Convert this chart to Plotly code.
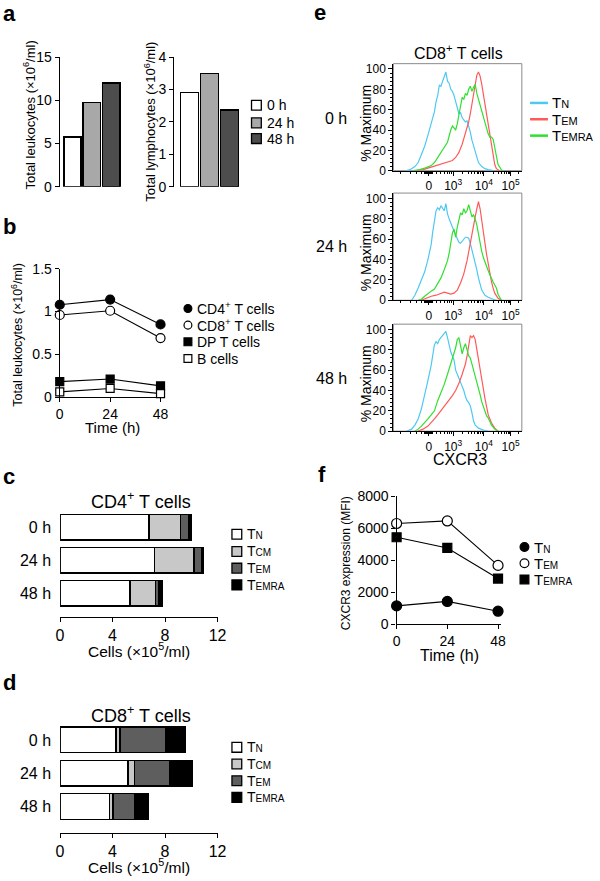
import plotly.graph_objects as go

W, H = 600, 881
FONT = "Liberation Sans, Arial, Helvetica, sans-serif"

# ---------------- data ----------------
# panel a
a_times = ["0 h", "24 h", "48 h"]
a_leuko = [5.75, 9.75, 12.0]
a_lympho = [2.91, 3.49, 2.36]
a_colors = ["#ffffff", "#a8a8a8", "#4d4d4d"]

# panel b
b_time = [0, 24, 48]
b_cd4 = [1.08, 1.14, 0.85]
b_cd8 = [0.96, 1.01, 0.69]
b_dp = [0.18, 0.21, 0.13]
b_bcell = [0.06, 0.10, 0.04]

# panel c (CD4+ subsets, x10^5/ml)
cd_times = ["0 h", "24 h", "48 h"]
cd4_tn = [6.78, 7.18, 5.32]
cd4_tcm = [2.39, 3.03, 1.94]
cd4_tem = [0.62, 0.57, 0.24]
cd4_temra = [0.22, 0.17, 0.28]

# panel d (CD8+ subsets, x10^5/ml)
cd8_tn = [4.25, 5.19, 3.75]
cd8_tcm = [0.32, 0.47, 0.28]
cd8_tem = [3.51, 2.69, 1.63]
cd8_temra = [1.44, 1.71, 1.10]
subset_colors = ["#ffffff", "#c8c8c8", "#5e5e5e", "#000000"]

# panel e (CXCR3 histograms, display channel vs % max)
h0_tn_x = [50,60,75,85,95,105,115,125,135,140,145,150,155,160,165,170,175,180,185,190,195,200,205,210,215,220,225,230,235,240,245,250,255,260,265,270,280,290,300,315]
h0_tn_y = [0,1,4,8,16,24,35,47,58,68,74,84,83,88,92,97,88,86,80,78,74,68,62,56,57,52,50,48,49,44,38,30,24,18,13,8,4,2,1,0]
h0_tem_x = [80,100,120,140,160,170,180,190,200,210,220,230,240,245,250,255,260,265,270,275,280,285,290,295,300,305,310,315,320,325,335]
h0_tem_y = [0,1,3,5,7,8,9,10,13,18,26,36,48,56,66,76,86,94,97,93,85,75,64,54,42,32,22,13,6,2,0]
h0_temra_x = [70,90,110,125,135,145,155,165,175,185,190,195,200,205,210,215,220,225,230,235,240,245,250,255,260,265,270,275,280,285,290,295,300,305,310,315,320,325,330,340,345]
h0_temra_y = [0,1,3,5,8,13,18,22,28,40,44,42,40,46,56,66,72,70,76,74,80,83,78,82,85,76,70,66,60,54,48,42,36,33,33,31,22,14,6,1,0]

h24_tn_x = [65,75,85,95,105,115,125,130,135,140,145,150,155,160,165,170,175,180,185,190,195,200,205,210,215,220,225,230,235,240,245,250,255,260,265,270,275,280,290,300,315,325]
h24_tn_y = [0,5,12,20,28,40,55,68,80,88,91,89,93,90,88,95,85,80,75,72,68,64,60,57,56,58,60,62,62,61,56,50,44,38,30,22,15,10,5,3,1,0]
h24_tem_x = [95,110,125,140,155,165,175,185,195,205,215,225,235,240,245,250,255,260,265,270,275,280,285,290,295,300,305,310,315,320,330,340]
h24_tem_y = [0,2,4,5,7,8,7,6,7,10,17,26,39,48,58,68,76,82,90,97,90,80,68,56,45,35,26,18,12,7,2,0]
h24_temra_x = [85,95,105,115,125,135,145,155,165,175,180,185,190,195,200,205,210,215,220,225,230,235,240,245,250,255,260,265,270,275,280,285,290,295,300,305,310,315,320,325,330,340]
h24_temra_y = [0,1,4,7,9,11,16,22,30,39,46,56,66,70,62,72,80,86,84,90,86,88,94,88,82,84,80,74,64,56,48,42,37,33,29,25,21,18,15,12,6,0]

h48_tn_x = [50,65,75,85,95,105,115,125,130,135,140,145,150,155,160,165,170,175,180,185,190,195,200,205,210,215,220,225,230,235,240,245,250,255,260,270,285,300]
h48_tn_y = [0,2,6,12,22,35,50,65,78,85,88,86,90,92,94,97,98,92,84,78,74,70,60,55,52,48,44,40,34,30,28,25,18,10,6,3,1,0]
h48_tem_x = [85,100,115,125,135,145,155,165,175,180,190,200,210,220,230,235,240,245,250,255,260,265,270,275,280,285,290,295,300,310,320,330]
h48_tem_y = [0,2,5,8,12,16,20,24,28,30,35,40,47,56,66,74,84,94,92,94,90,80,70,58,48,40,32,24,16,8,3,0]
h48_temra_x = [75,85,95,105,115,125,135,145,155,165,175,185,190,195,200,205,210,215,220,225,230,235,240,245,250,255,260,265,270,275,280,285,290,295,300,310,320,330]
h48_temra_y = [0,2,5,8,12,16,20,30,38,46,56,66,72,78,82,90,92,84,76,82,86,80,74,72,66,61,56,50,43,36,29,24,19,15,13,6,2,0]

hist_tickvals = [118, 192.5, 286.5, 368.5]
hist_ticktext = ["0", "10<sup>3</sup>", "10<sup>4</sup>", "10<sup>5</sup>"]
hist_minor = [30, 60, 80, 95, 103, 107, 110, 113, 116, 120, 123, 126, 130, 140, 155, 166, 175, 182, 187,
              221, 238, 250, 259, 266, 271, 276, 281, 315, 331, 342, 350, 356, 361, 365, 394]

# panel f
f_time = [0, 24, 48]
f_tn = [1150, 1430, 820]
f_tem = [6300, 6460, 3680]
f_temra = [5440, 4770, 2860]

CYAN, RED, GREEN = "#4ec8f2", "#ff5a5a", "#2fe02f"

# ---------------- helpers ----------------
def px(x):
    return x / W

def py(y):
    return 1 - y / H

layout = dict(
    width=W, height=H, margin=dict(l=0, r=0, t=0, b=0),
    paper_bgcolor="white", plot_bgcolor="white", showlegend=False,
    barmode="stack", font=dict(family=FONT, color="black", size=14),
)

base_axis = dict(showgrid=False, zeroline=False, showline=True, linecolor="black", linewidth=1.3,
                 ticks="outside", tickcolor="black", tickwidth=1.3, ticklen=4)

def add_axes(n, xl, xr, yt, yb, xopts, yopts):
    xk = "xaxis" if n == 1 else f"xaxis{n}"
    yk = "yaxis" if n == 1 else f"yaxis{n}"
    xa = dict(base_axis); xa.update(domain=[px(xl), px(xr)], anchor="y" if n == 1 else f"y{n}"); xa.update(xopts)
    ya = dict(base_axis); ya.update(domain=[py(yb), py(yt)], anchor="x" if n == 1 else f"x{n}"); ya.update(yopts)
    layout[xk] = xa
    layout[yk] = ya

def ax(n):
    return ("x" if n == 1 else f"x{n}", "y" if n == 1 else f"y{n}")

fig = go.Figure()
annotations = []
shapes = []

def text(x, y, s, size=14, xanchor="center", yanchor="middle", angle=0, bold=False):
    annotations.append(dict(x=px(x), y=py(y), xref="paper", yref="paper", text=f"<b>{s}</b>" if bold else s,
                            showarrow=False, xanchor=xanchor, yanchor=yanchor, textangle=angle,
                            font=dict(size=size, family=FONT, color="black")))

def rect(x0, y0, x1, y1, fill, lw=1.3, color="black"):
    shapes.append(dict(type="rect", xref="paper", yref="paper", x0=px(x0), x1=px(x1), y0=py(y1), y1=py(y0),
                       fillcolor=fill, line=dict(color=color, width=lw)))

def circ(cx, cy, r, fill):
    shapes.append(dict(type="circle", xref="paper", yref="paper", x0=px(cx - r), x1=px(cx + r),
                       y0=py(cy + r), y1=py(cy - r), fillcolor=fill, line=dict(color="black", width=1.2)))

def hline(x0, x1, y, color, w=2.5):
    shapes.append(dict(type="line", xref="paper", yref="paper", x0=px(x0), x1=px(x1), y0=py(y), y1=py(y),
                       line=dict(color=color, width=w)))

# ---------------- panel a ----------------
add_axes(1, 57, 121, 50, 182,
         dict(type="category", range=[-0.66, 2.58], showline=False, showticklabels=False, ticks=""),
         dict(range=[0, 15], tickvals=[0, 5, 10, 15], tickfont=dict(size=14)))
fig.add_trace(go.Bar(x=a_times, y=a_leuko, marker=dict(color=a_colors, line=dict(color="black", width=1.5)),
                     width=0.9, xaxis="x", yaxis="y"))
add_axes(2, 174, 241, 50, 182,
         dict(type="category", range=[-0.756, 2.51], showline=False, showticklabels=False, ticks=""),
         dict(range=[0, 4], tickvals=[0, 1, 2, 3, 4], tickfont=dict(size=14)))
fig.add_trace(go.Bar(x=a_times, y=a_lympho, marker=dict(color=a_colors, line=dict(color="black", width=1.5)),
                     width=0.9, xaxis="x2", yaxis="y2"))
text(26, 109, "Total leukocytes (×10<sup>6</sup>/ml)", size=13, angle=-90)
text(149, 116, "Total lymphocytes (×10<sup>6</sup>/ml)", size=13, angle=-90)
for t, c, yy in zip(a_times, a_colors, [99, 117, 133]):
    rect(253, yy - 5, 263, yy + 5, c)
    text(267, yy, t, size=14, xanchor="left")

# ---------------- panel b ----------------
add_axes(3, 57, 163, 265.7, 396.2,
         dict(range=[0, 49.4], tickvals=[0, 24, 48], tickfont=dict(size=14)),
         dict(range=[0, 1.5], tickvals=[0, 0.5, 1, 1.5], ticktext=["0", "0.5", "1", "1.5"], tickfont=dict(size=14)))
b_series = [
    (b_cd4, "circle", "black", 9),
    (b_cd8, "circle", "white", 9),
    (b_dp, "square", "black", 8),
    (b_bcell, "square", "white", 8),
]
for vals, sym, fill, sz in b_series:
    fig.add_trace(go.Scatter(x=b_time, y=vals, mode="lines+markers", cliponaxis=False,
                             line=dict(color="black", width=1.1),
                             marker=dict(symbol=sym, size=sz, color=fill, line=dict(color="black", width=1.2)),
                             xaxis="x3", yaxis="y3"))
text(13, 333, "Total leukocytes (×10<sup>6</sup>/ml)", size=12.5, angle=-90)
text(111, 427, "Time (h)", size=15)
b_leg = ["CD4<sup>+</sup> T cells", "CD8<sup>+</sup> T cells", "DP T cells", "B cells"]
for (vals, sym, fill, sz), lab, yy in zip(b_series, b_leg, [306, 323, 340, 357]):
    if sym == "circle":
        circ(188, yy, 4, fill)
    else:
        rect(184, yy - 4, 192, yy + 4, fill, lw=1.2)
    text(195, yy, lab, size=14, xanchor="left")

# ---------------- panels c & d ----------------
sub_labels = ["T<span style='font-size:10px'>N</span>", "T<span style='font-size:10px'>CM</span>",
              "T<span style='font-size:10px'>EM</span>", "T<span style='font-size:10px'>EMRA</span>"]

def stacked(n, yt, yb, lo, series, title, title_y, xt_y, leg_rows):
    add_axes(n, 57.3, 218.3, yt, yb,
             dict(range=[0, 12], tickvals=[0, 4, 8, 12], ticklen=4, tickfont=dict(size=16)),
             dict(type="category", categoryorder="array", categoryarray=cd_times[::-1], range=[lo, 2.6],
                  showline=False, ticks="", ticklabelstandoff=8, tickfont=dict(size=16)))
    xa, ya = ax(n)
    for vals, col in zip(series, subset_colors):
        fig.add_trace(go.Bar(y=cd_times, x=vals, orientation="h", width=0.77,
                             marker=dict(color=col, line=dict(color="black", width=1.4)),
                             xaxis=xa, yaxis=ya))
    text(140, title_y, title, size=18)
    text(138, xt_y, "Cells (×10<sup>5</sup>/ml)", size=15.5)
    for lab, col, yy in zip(sub_labels, subset_colors, leg_rows):
        rect(233, yy - 5, 243, yy + 5, col)
        text(246, yy, lab, size=14, xanchor="left")

stacked(4, 508.5, 620, -0.713, [cd4_tn, cd4_tcm, cd4_tem, cd4_temra], "CD4<sup>+</sup> T cells", 501.5, 654,
        [536, 553.5, 570.5, 587.5])
stacked(5, 725.2, 840, -0.79, [cd8_tn, cd8_tcm, cd8_tem, cd8_temra], "CD8<sup>+</sup> T cells", 719.7, 874,
        [753, 770, 787, 804])

# ---------------- panel e ----------------
hists = [
    (6, 56.7, 165.7, [(h0_tn_x, h0_tn_y, CYAN), (h0_tem_x, h0_tem_y, RED), (h0_temra_x, h0_temra_y, GREEN)], "0 h", 113),
    (7, 188.5, 297.7, [(h24_tn_x, h24_tn_y, CYAN), (h24_tem_x, h24_tem_y, RED), (h24_temra_x, h24_temra_y, GREEN)], "24 h", 243),
    (8, 322.0, 431.0, [(h48_tn_x, h48_tn_y, CYAN), (h48_tem_x, h48_tem_y, RED), (h48_temra_x, h48_temra_y, GREEN)], "48 h", 377.5),
]
for n, yt, yb, curves, lab, ly in hists:
    top = 100 * (yb - yt) / 103.6
    add_axes(n, 398, 529.3, yt, yb,
             dict(range=[9, 403], tickvals=hist_tickvals, ticktext=hist_ticktext, tickfont=dict(size=12),
                  ticklen=4, tickwidth=1,
                  minor=dict(tickvals=hist_minor, ticklen=2, ticks="outside", tickcolor="black", tickwidth=1)),
             dict(range=[0, top], tickvals=[0, 20, 40, 60, 80, 100], tickfont=dict(size=12), ticklen=4, tickwidth=1,
                  minor=dict(tickvals=[v for v in range(4, 100, 4) if v % 20], ticklen=2, ticks="outside",
                             tickcolor="black", tickwidth=1)))
    xa, ya = ax(n)
    shapes.append(dict(type="rect", xref=f"{xa} domain", yref=f"{ya} domain", x0=0, x1=1, y0=0, y1=1,
                       line=dict(color="#8a8a8a", width=1), layer="below"))
    for xs, ys, col in curves:
        fig.add_trace(go.Scatter(x=xs, y=ys, mode="lines", line=dict(color=col, width=1.2),
                                 xaxis=xa, yaxis=ya))
    text(353, ly, lab, size=16, xanchor="right")
    text(370, (yb + (yb - 103.6)) / 2 + 3, "% Maximum", size=14, angle=-90)

text(465, 45, "CD8<sup>+</sup> T cells", size=16)
text(466, 459.5, "CXCR3", size=16)
e_leg = ["T<span style='font-size:11px'>N</span>", "T<span style='font-size:11px'>EM</span>",
         "T<span style='font-size:11px'>EMRA</span>"]
for lab, col, yy in zip(e_leg, [CYAN, RED, GREEN], [96.7, 113.3, 130]):
    hline(537.7, 556, yy, col)
    text(558, yy, lab, size=15, xanchor="left")

# ---------------- panel f ----------------
add_axes(9, 401.3, 508, 497.3, 627.7,
         dict(range=[0, 49.4], tickvals=[0, 24, 48], tickfont=dict(size=14)),
         dict(range=[0, 8000], tickvals=[0, 2000, 4000, 6000, 8000], tickfont=dict(size=14)))
f_series = [
    (f_tn, "circle", "black", 10),
    (f_tem, "circle", "white", 10),
    (f_temra, "square", "black", 9),
]
for vals, sym, fill, sz in f_series:
    fig.add_trace(go.Scatter(x=f_time, y=vals, mode="lines+markers", cliponaxis=False,
                             line=dict(color="black", width=1.1),
                             marker=dict(symbol=sym, size=sz, color=fill, line=dict(color="black", width=1.2)),
                             xaxis="x9", yaxis="y9"))
text(349, 565, "CXCR3 expression (MFI)", size=12, angle=-90)
text(455, 659.5, "Time (h)", size=16)
f_leg = ["T<span style='font-size:10px'>N</span>", "T<span style='font-size:10px'>EM</span>",
         "T<span style='font-size:10px'>EMRA</span>"]
for (vals, sym, fill, sz), lab, yy in zip(f_series, f_leg, [549, 565.5, 582]):
    if sym == "circle":
        circ(532, yy, 4.5, fill)
    else:
        rect(527.5, yy - 4.5, 536.5, yy + 4.5, fill, lw=1.2)
    text(540, yy, lab, size=15, xanchor="left")

# ---------------- panel letters ----------------
for lab, x, y in [("a", -3, 6), ("b", -3, 223), ("c", -3, 477), ("d", -3, 687), ("e", 315, 5), ("f", 319, 475)]:
    text(x, y, lab, size=22, xanchor="left", bold=True)

layout["annotations"] = annotations
layout["shapes"] = shapes
fig.update_layout(**layout)
fig.write_html("out.html", post_script="document.body.style.margin='0px';",
               config={"displayModeBar": False})
